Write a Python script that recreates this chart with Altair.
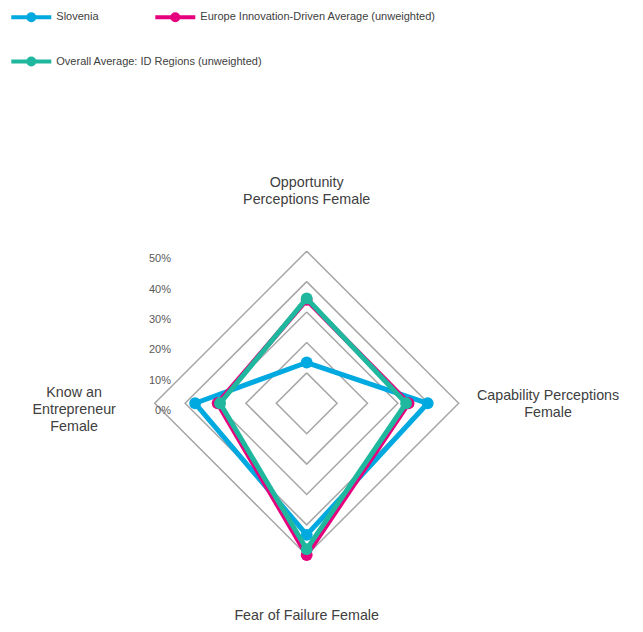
import altair as alt
import pandas as pd

# ---------------- data ----------------
categories = [
    "Opportunity Perceptions Female",
    "Capability Perceptions Female",
    "Fear of Failure Female",
    "Know an Entrepreneur Female",
]
category_labels = [
    "Opportunity\nPerceptions Female",
    "Capability Perceptions\nFemale",
    "Fear of Failure Female",
    "Know an\nEntrepreneur\nFemale",
]
series = [
    "Slovenia",
    "Europe Innovation-Driven Average (unweighted)",
    "Overall Average: ID Regions (unweighted)",
]
slovenia = [13.4, 39.8, 43.3, 36.7]
europe = [34.0, 33.5, 49.9, 29.3]
overall = [34.5, 32.7, 48.0, 28.5]
grid_levels = [10, 20, 30, 40, 50]
tick_values = [0, 10, 20, 30, 40, 50]
tick_labels = ["0%", "10%", "20%", "30%", "40%", "50%"]

# ---------------- style ----------------
colors = ["#00a9e0", "#e6007e", "#1fb89e"]
FONT = "'Liberation Sans', Arial, sans-serif"
LABEL_RADIUS = [72.5, 79.4, 70.0, 76.5]
LABEL_SHIFT = [0.0, 2.4, 0.0, 3.4]
W, H = 627, 616
X_DOMAIN = [-98.26, 108.0]
Y_DOMAIN = [-72.6, 130.0]
SYMBOL = ("M-1,0H1"
          "M0.15,0A0.15,0.15,0,1,1,-0.15,0A0.15,0.15,0,1,1,0.15,0"
          "M0.05,0A0.05,0.05,0,1,1,-0.05,0A0.05,0.05,0,1,1,0.05,0")

n = len(categories)

# tables built from the arrays
rows = []
for s, vals in zip(series, [slovenia, europe, overall]):
    for i in range(n + 1):
        rows.append({"series": s, "idx": i, "value": vals[i % n], "category": categories[i % n]})
df = pd.DataFrame(rows)

grid_rows = []
for lv in grid_levels:
    for i in range(n + 1):
        grid_rows.append({"level": lv, "idx": i, "value": lv})
grid_df = pd.DataFrame(grid_rows)

label_df = pd.DataFrame({"label": category_labels, "idx": list(range(n)),
                         "value": LABEL_RADIUS, "shift": LABEL_SHIFT})
tick_df = pd.DataFrame({"v": tick_values, "label": tick_labels})

calc = dict(
    x=f"datum.value * sin(datum.idx * 2 * PI / {n})",
    y=f"datum.value * cos(datum.idx * 2 * PI / {n})",
)

X = alt.X("x:Q", scale=alt.Scale(domain=X_DOMAIN, nice=False, zero=False), axis=None)
Y = alt.Y("y:Q", scale=alt.Scale(domain=Y_DOMAIN, nice=False, zero=False), axis=None)


def make_legend(ly):
    return alt.Legend(
        title=None,
        orient="none",
        legendX=1.3,
        legendY=ly,
        direction="horizontal",
        columnPadding=48,
        padding=0,
        symbolType=SYMBOL,
        symbolSize=1600,
        symbolStrokeWidth=4,
        symbolOpacity=1,
        labelFont=FONT,
        labelFontSize=11,
        labelColor="#404040",
        labelOffset=3,
        labelLimit=500,
    )


STROKE = alt.Stroke("series:N", scale=alt.Scale(domain=series[:2], range=colors[:2]),
                    legend=make_legend(-12.7))
COLOR = alt.Color("series:N", scale=alt.Scale(domain=series[2:], range=colors[2:]),
                  legend=make_legend(31.5))
FILL = alt.Fill("series:N", scale=alt.Scale(domain=series, range=colors), legend=None)

grid = (
    alt.Chart(grid_df)
    .transform_calculate(**calc)
    .mark_line(color="#a6a6a6", strokeWidth=1.5)
    .encode(x=X, y=Y, detail="level:N", order="idx:Q")
)

layers = [grid]
for k, s in enumerate(series):
    base = alt.Chart(df).transform_filter(alt.datum.series == s).transform_calculate(**calc)
    enc = {"stroke": STROKE} if k < 2 else {"color": COLOR}
    line = base.mark_line(strokeWidth=5, strokeJoin="round").encode(
        x=X, y=Y, order="idx:Q", **enc
    )
    pts = (
        base.transform_filter(f"datum.idx < {n}")
        .mark_point(filled=True, size=140, opacity=1)
        .encode(x=X, y=Y, fill=FILL)
    )
    layers += [line, pts]

ticks = (
    alt.Chart(tick_df)
    .mark_text(align="right", baseline="middle", dy=8, font=FONT, fontSize=11, color="#595959")
    .encode(x=alt.value(163),
            y=alt.Y("v:Q", scale=alt.Scale(domain=Y_DOMAIN, nice=False, zero=False), axis=None),
            text="label:N")
)

cat_labels = (
    alt.Chart(label_df)
    .transform_calculate(
        x=f"datum.value * sin(datum.idx * 2 * PI / {n})",
        y=f"datum.value * cos(datum.idx * 2 * PI / {n}) + datum.shift",
    )
    .mark_text(align="center", baseline="middle", lineBreak="\n", lineHeight=17,
               font=FONT, fontSize=14.3, color="#404040")
    .encode(x=X, y=Y, text="label:N")
)

chart = (
    alt.layer(*layers, ticks, cat_labels)
    .properties(width=W, height=H, autosize=alt.AutoSizeParams(type="none"), padding=0,
                background="white")
    .configure_view(stroke=None)
)

chart.save("out.html", embed_options={"renderer": "svg", "actions": False})
